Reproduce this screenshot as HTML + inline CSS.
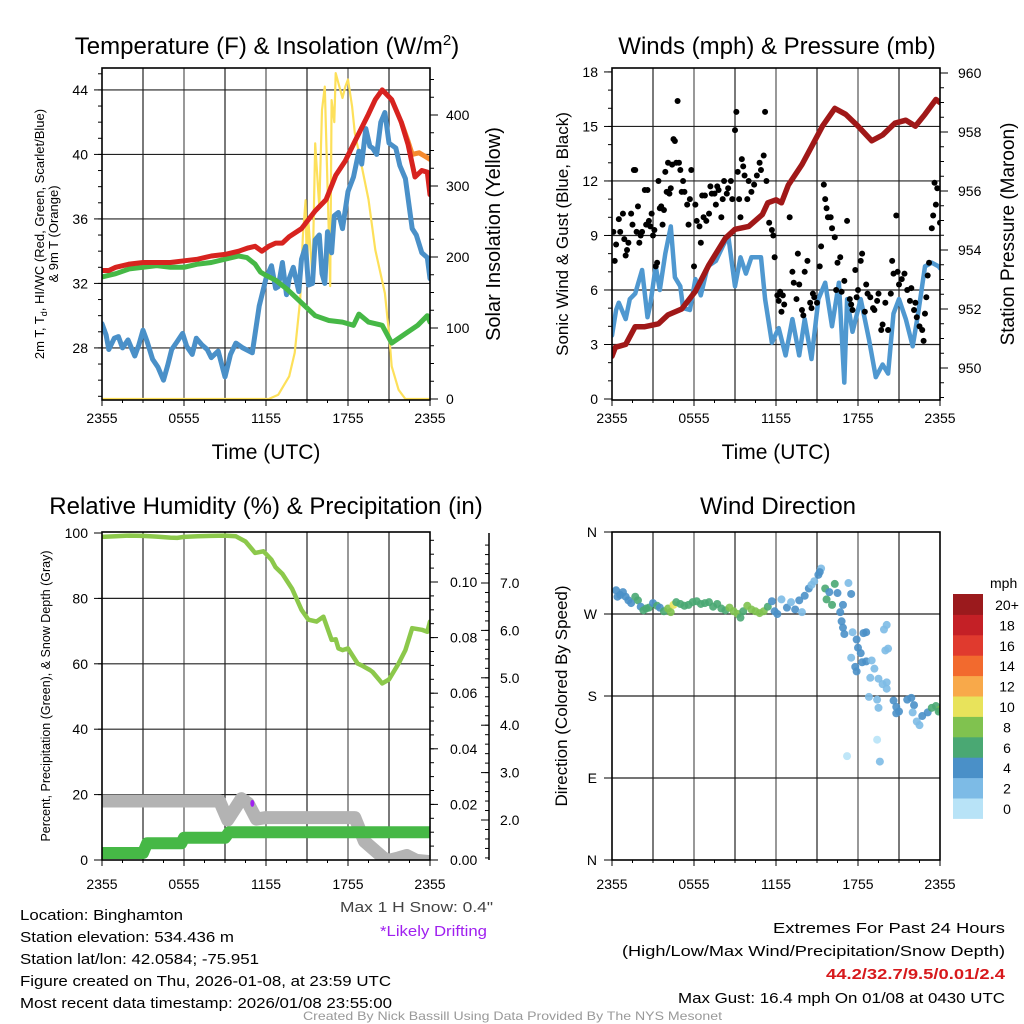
<!DOCTYPE html>
<html><head><meta charset="utf-8"><style>
body{margin:0;background:#fff;}
svg{display:block;font-family:"Liberation Sans",sans-serif;}
</style></head><body>
<svg id="fig" width="1024" height="1024" viewBox="0 0 1024 1024" xmlns="http://www.w3.org/2000/svg">
<defs>
<clipPath id="c1"><rect x="102" y="68" width="328" height="332"/></clipPath>
<clipPath id="c2"><rect x="612" y="68" width="328" height="332"/></clipPath>
<clipPath id="c3"><rect x="102" y="532" width="328" height="328"/></clipPath>
<clipPath id="c4"><rect x="612" y="532" width="328" height="328"/></clipPath>
</defs>
<g id="root"></g>
<text x="267" y="54" font-size="24" text-anchor="middle">Temperature (F) &amp; Insolation (W/m<tspan dy="-9" font-size="15">2</tspan><tspan dy="9">)</tspan></text>
<text x="777" y="54" font-size="24" text-anchor="middle">Winds (mph) &amp; Pressure (mb)</text>
<text x="266" y="514" font-size="24" text-anchor="middle">Relative Humidity (%) &amp; Precipitation (in)</text>
<text x="778" y="514" font-size="24" text-anchor="middle">Wind Direction</text>
<text x="266" y="459" font-size="21" text-anchor="middle">Time (UTC)</text>
<text x="776" y="459" font-size="21" text-anchor="middle">Time (UTC)</text>
<text transform="translate(500,234) rotate(-90)" font-size="20" text-anchor="middle">Solar Insolation (Yellow)</text>
<text transform="translate(44,234) rotate(-90)" font-size="13" text-anchor="middle">2m T, T<tspan font-size="9" dy="3">d</tspan><tspan dy="-3">, HI/WC (Red, Green, Scarlet/Blue)</tspan></text>
<text transform="translate(58,234) rotate(-90)" font-size="13" text-anchor="middle">&amp; 9m T (Orange)</text>
<text transform="translate(568,234) rotate(-90)" font-size="17" text-anchor="middle">Sonic Wind &amp; Gust (Blue, Black)</text>
<text transform="translate(1014,234) rotate(-90)" font-size="19" text-anchor="middle">Station Pressure (Maroon)</text>
<text transform="translate(50,696) rotate(-90)" font-size="12.5" text-anchor="middle">Percent, Precipitation (Green), &amp; Snow Depth (Gray)</text>
<text transform="translate(567,696) rotate(-90)" font-size="17" text-anchor="middle">Direction (Colored By Speed)</text>
<g font-size="15">
<text x="20" y="920" textLength="163" lengthAdjust="spacingAndGlyphs">Location: Binghamton</text>
<text x="20" y="942" textLength="214" lengthAdjust="spacingAndGlyphs">Station elevation: 534.436 m</text>
<text x="20" y="964" textLength="239" lengthAdjust="spacingAndGlyphs">Station lat/lon: 42.0584; -75.951</text>
<text x="20" y="986" textLength="371" lengthAdjust="spacingAndGlyphs">Figure created on Thu, 2026-01-08, at 23:59 UTC</text>
<text x="20" y="1008" textLength="372" lengthAdjust="spacingAndGlyphs">Most recent data timestamp: 2026/01/08 23:55:00</text>
</g>
<text x="340" y="912" font-size="15" fill="#444" textLength="153" lengthAdjust="spacingAndGlyphs">Max 1 H Snow: 0.4"</text>
<text x="380" y="936" font-size="15" fill="#a020f0" textLength="107" lengthAdjust="spacingAndGlyphs">*Likely Drifting</text>
<g font-size="15">
<text x="773" y="933" textLength="232" lengthAdjust="spacingAndGlyphs">Extremes For Past 24 Hours</text>
<text x="622" y="956" textLength="383" lengthAdjust="spacingAndGlyphs">(High/Low/Max Wind/Precipitation/Snow Depth)</text>
<text x="826" y="979" font-weight="bold" fill="#d7191c" textLength="179" lengthAdjust="spacingAndGlyphs">44.2/32.7/9.5/0.01/2.4</text>
<text x="678" y="1003" textLength="327" lengthAdjust="spacingAndGlyphs">Max Gust: 16.4 mph On 01/08 at 0430 UTC</text>
</g>
<text x="303" y="1020" font-size="12" fill="#999" textLength="419" lengthAdjust="spacingAndGlyphs">Created By Nick Bassill Using Data Provided By The NYS Mesonet</text>
</svg>
<script>
// ---------- data ----------
var xTickLabels=["2355","0555","1155","1755","2355"];
var tempTicks=[28,32,36,40,44];
var solarTicks=[0,100,200,300,400];
var windTicks=[0,3,6,9,12,15,18];
var presTicks=[950,952,954,956,958,960];
var rhTicks=[0,20,40,60,80,100];
var precipTicks=[0,0.02,0.04,0.06,0.08,0.10];
var snowTicks=[2,3,4,5,6,7];
var dirLabels=["N","E","S","W","N"];
var dirTicks=[0,90,180,270,360];
var speedBins=["0","2","4","6","8","10","12","14","16","18","20+"];
var speedColors=["#b8e3f7","#7dbbe6","#4a90c8","#4aa873","#80c24f","#e8e35b","#f8a94a","#f26a2e","#e03a2e","#c42026","#9b1a1d"];

var tempT=[0,0.5,1,2,3,4,5,6,7,8,9,10,10.7,11.2,11.7,12.2,12.7,13.2,13.7,14.6,15.6,16.4,17.1,17.8,18.5,19.5,20.0,20.5,21.2,21.9,22.4,22.9,23.4,23.8,24];
var tempV=[32.8,32.8,33.0,33.2,33.3,33.3,33.3,33.4,33.5,33.7,33.8,34.0,34.2,34.3,34.0,34.3,34.5,34.5,34.9,35.4,36.5,37.2,38.7,39.6,40.8,42.5,43.4,44.0,43.4,42.0,40.6,38.6,39.0,38.9,37.5];
var t9T=[21.9,22.4,22.7,23.2,23.6,24];
var t9V=[42.0,40.8,40.0,40.1,39.9,39.7];
var dewT=[0,1,2,3,4,5,6,7,8,9,10,10.6,11.2,11.6,12.0,12.7,13.6,14.6,15.6,16.6,17.6,18.4,18.8,19.5,20.5,21.2,22.4,23.1,23.8,24];
var dewV=[32.4,32.6,32.9,33.0,33.1,33.0,33.0,33.2,33.3,33.5,33.7,33.6,33.2,32.7,32.5,32.2,31.6,30.8,30.0,29.7,29.6,29.4,30.1,29.6,29.4,28.3,29.0,29.4,30.0,29.6];
var wcT=[0,0.3,0.5,0.9,1.2,1.5,1.9,2.4,2.7,3.0,3.3,3.7,4.1,4.5,4.8,5.1,5.5,5.9,6.2,6.6,6.9,7.3,7.7,8.0,8.5,9.0,9.4,9.8,10.3,11.0,11.5,12.0,12.4,12.7,12.9,13.2,13.5,13.7,14.0,14.4,14.6,14.9,15.1,15.4,15.6,15.9,16.1,16.3,16.5,16.8,17.0,17.3,17.6,18.0,18.4,18.8,19.0,19.3,19.6,19.8,20.1,20.4,20.7,21.0,21.5,21.8,22.2,22.7,23.0,23.4,23.8,24];
var wcV=[29.5,28.8,27.9,28.6,28.7,28.0,28.5,27.5,28.2,29.1,28.4,27.3,26.8,26.0,26.9,27.9,28.4,28.9,28.1,27.6,28.6,28.2,27.9,27.4,27.8,26.2,27.6,28.3,28.0,27.7,30.6,32.3,33.1,31.7,31.8,33.3,31.3,32.3,33.0,31.5,33.5,34.3,31.9,32.0,34.7,35.0,32.6,32.0,35.2,33.9,36.2,36.4,35.4,37.7,38.6,40.2,39.4,41.6,40.5,40.4,40.0,42.0,42.6,40.7,40.4,39.3,38.5,35.4,35.0,33.9,33.6,32.3];
var solT=[0,12.2,12.9,13.7,14.1,14.5,14.7,14.9,15.0,15.1,15.3,15.4,15.6,15.8,15.9,16.1,16.3,16.5,16.6,16.7,16.8,17.0,17.1,17.3,17.6,17.8,18.0,18.3,18.5,19.0,19.5,20.0,20.7,21.0,21.2,21.7,22.2,24];
var solV=[0,0,6,32,65,140,230,280,170,250,200,170,360,300,270,407,440,300,230,159,421,390,459,445,424,440,450,412,375,328,281,210,149,93,46,13,0,0];

var presT=[0,0.25,1,1.7,2.4,3.4,4.1,5.1,6.1,7.1,8.3,9.0,10.0,11.0,11.4,12.0,12.4,12.9,13.9,14.6,15.4,16.3,17.1,18.0,19.0,19.8,20.7,21.5,22.2,22.9,23.7,24];
var presV=[950.4,950.7,950.8,951.4,951.4,951.5,951.8,952.0,952.6,953.5,954.4,954.7,954.8,955.2,955.6,955.7,955.6,956.2,956.9,957.5,958.2,958.8,958.6,958.2,957.7,957.9,958.3,958.4,958.2,958.6,959.1,959.0];
var windT=[0,0.3,0.5,1.0,1.3,1.7,2.2,2.6,2.8,3.2,3.5,3.9,4.3,4.6,5.0,5.2,5.7,6.1,6.5,7.0,7.6,8.1,8.5,9.0,9.4,9.8,10.2,10.9,11.2,11.7,12.2,12.7,13.2,13.7,14.1,14.6,15.1,15.6,16.1,16.6,17.0,17.2,17.6,18.2,18.8,19.3,19.8,20.2,20.6,21.0,21.5,22.0,22.4,22.9,23.4,23.9,24];
var windV=[3.5,4.9,5.3,4.4,5.5,5.8,7.1,4.5,5.2,7.3,6.0,8.0,9.5,6.7,6.2,5.0,4.9,6.6,5.7,7.3,7.6,8.4,9.0,6.2,7.8,6.9,7.8,7.8,5.5,3.1,3.9,2.4,4.4,2.4,4.4,2.2,5.5,6.4,4.0,6.4,0.9,5.5,3.7,5.5,3.3,1.2,1.9,1.4,4.7,5.5,4.4,2.9,4.7,7.3,7.5,7.3,7.2];
var gustT=[0.1,0.2,0.3,0.5,0.6,0.8,0.9,1.0,1.1,1.2,1.4,1.5,1.6,1.7,1.8,1.9,2.0,2.1,2.2,2.4,2.5,2.6,2.7,2.8,2.9,3.0,3.1,3.2,3.3,3.4,3.5,3.6,3.7,3.8,3.9,4.0,4.1,4.2,4.3,4.4,4.5,4.6,4.7,4.8,4.9,5.0,5.1,5.2,5.3,5.5,5.6,5.7,5.8,6.0,6.1,6.2,6.4,6.5,6.6,6.7,6.8,6.9,7.1,7.2,7.3,7.5,7.6,7.7,7.8,8.0,8.1,8.2,8.4,8.5,8.7,8.8,9.0,9.1,9.2,9.3,9.4,9.5,9.6,9.7,9.9,10.0,10.2,10.4,10.6,10.8,10.9,11.1,11.2,11.3,11.5,11.7,11.8,11.9,12.1,12.2,12.3,12.4,12.5,12.6,13.0,13.2,13.3,13.5,13.6,13.7,13.9,14.0,14.1,14.3,14.5,14.6,14.7,14.8,15.0,15.2,15.3,15.5,15.6,15.7,15.8,16.0,16.1,16.3,16.4,16.5,16.7,16.8,17.0,17.2,17.4,17.5,17.6,17.8,17.9,18.0,18.2,18.3,18.5,18.6,18.7,18.9,19.1,19.2,19.4,19.5,19.7,19.8,20.0,20.2,20.4,20.5,20.6,20.8,20.9,21.0,21.2,21.4,21.6,21.8,21.9,22.1,22.2,22.3,22.5,22.7,22.8,22.9,23.0,23.1,23.2,23.4,23.5,23.6,23.7,23.8,24.0];
var gustV=[9.2,7.6,8.5,9.9,9.2,10.2,8.8,7.9,8.2,8.6,10.2,9.6,12.6,12.6,9.2,10.6,8.6,9.0,9.2,11.5,9.6,11.5,9.8,9.5,10.2,9.0,9.3,7.3,7.5,12.0,10.5,10.6,9.6,10.4,12.5,11.4,13.0,11.3,11.6,12.9,14.3,14.2,13.0,16.4,13.0,12.6,11.4,12.0,11.4,10.7,9.6,11.0,12.6,7.3,10.7,9.8,9.5,8.6,11.2,10.0,11.2,9.8,10.2,11.7,11.3,11.3,10.7,11.7,11.5,10.0,11.0,12.0,11.3,11.6,12.0,11.0,14.8,15.8,12.5,11.0,10.0,13.2,12.8,12.3,11.0,12.0,11.4,11.8,12.3,13.0,12.6,13.4,15.8,12.0,9.7,9.3,9.0,7.8,5.7,5.4,5.9,4.8,5.7,5.2,10.0,7.0,6.4,5.5,8.0,6.3,4.9,4.6,7.0,7.6,5.3,5.0,5.8,5.6,5.3,7.3,8.4,11.8,11.0,10.5,10.0,10.0,9.4,8.9,6.0,7.5,7.8,5.9,6.5,9.8,5.5,5.2,4.9,7.1,5.6,6.0,7.6,8.0,4.8,6.3,5.8,5.6,5.0,4.9,5.4,5.8,3.8,4.1,5.3,3.8,5.8,7.6,6.9,10.1,7.0,6.3,6.6,6.9,6.0,5.4,6.1,4.9,5.3,4.5,4.0,3.8,3.2,4.7,5.6,6.8,7.5,9.4,10.1,11.9,10.7,11.6,9.7];

var rhT=[0,1,2,3,4,5,5.5,6,7,8,9,9.8,10.5,11.2,11.8,12.0,12.4,12.7,13.2,13.9,14.6,15.1,15.7,16.2,16.8,17.1,17.3,17.6,18.0,18.7,19.0,19.6,19.8,20.5,21.0,21.7,22.2,22.7,23.4,23.8,24];
var rhV=[98.8,99.0,99.2,99.1,98.9,98.6,98.5,98.8,99.0,99.1,99.2,99.0,97.4,93.9,94.4,93.6,91.8,89.5,87.5,83.0,76.5,73.5,72.9,74.4,67.3,67.5,64.7,64.2,64.7,60.1,59.5,58.1,57.5,54.0,55.2,60.1,64.2,70.9,70.4,69.8,72.9];
var precT=[0,3.0,3.3,5.8,6.0,9.0,9.3,24];
var precV=[0.0025,0.0025,0.006,0.006,0.008,0.008,0.01,0.01];
var snowT=[0,8.6,9.2,10.2,10.7,11.3,12.0,18.5,19.2,20.0,20.6,21.0,21.7,22.3,23.0,24];
var snowV=[2.4,2.4,2.0,2.45,2.35,2.02,2.05,2.05,1.55,1.35,1.2,1.15,1.2,1.25,1.15,1.12];
var driftT=[11.0];
var driftV=[2.35];

var dirT=[0.3,0.4,0.6,0.8,1.0,1.2,1.4,1.7,1.9,2.1,2.3,2.5,2.7,3.0,3.3,3.5,3.8,4.1,4.3,4.5,4.7,5.0,5.3,5.6,5.9,6.2,6.5,6.8,7.1,7.4,7.7,8.0,8.3,8.6,8.9,9.2,9.4,9.6,9.9,10.2,10.5,10.8,11.1,11.4,11.7,11.9,12.1,12.4,12.8,13.1,13.4,13.7,13.9,14.1,14.4,14.6,14.8,15.1,15.3,15.2,15.6,15.7,15.9,16.1,16.3,16.5,16.7,16.9,17.3,17.5,16.8,16.9,17.0,17.6,17.9,18.0,18.2,17.5,17.8,17.9,18.3,18.6,19.0,19.2,18.9,19.5,19.8,20.1,20.1,20.0,20.2,19.9,20.1,18.4,18.6,18.8,19.4,19.5,20.6,20.8,21.0,20.8,21.6,21.9,22.1,22.0,22.3,22.5,22.7,23.1,23.4,23.7,24.0,23.9,19.4,17.2,19.6];
var dirV=[296,289,291,294,289,285,282,289,285,278,274,276,277,282,279,277,273,276,272,280,283,281,279,280,283,284,281,282,283,278,281,276,274,277,273,270,266,273,279,275,273,271,273,278,284,273,270,286,277,283,275,285,272,290,298,302,306,313,320,316,298,286,294,280,303,293,272,280,304,292,262,255,248,250,242,233,227,222,212,207,217,218,219,210,200,199,193,188,195,230,232,253,258,249,250,179,176,167,175,168,163,161,176,178,170,162,152,148,158,162,167,169,165,163,132,114,108];
var dirSpd=[4,4,4,4,4,4,4,6,6,4,6,6,6,4,6,4,6,8,8,10,6,6,6,6,6,6,6,6,6,6,6,6,6,8,8,8,6,6,8,8,8,8,8,6,4,4,4,2,4,2,4,4,2,4,4,2,2,4,2,4,6,6,4,6,6,4,4,4,2,4,4,4,4,2,4,4,4,2,4,4,4,4,2,2,2,2,2,2,2,2,2,2,2,4,4,2,2,2,4,4,4,4,4,4,4,2,2,2,4,4,6,6,8,6,0,0,2];

// ---------- helpers ----------
var NS="http://www.w3.org/2000/svg";
var root=document.getElementById('root');
function mk(tag,attrs,parent){var e=document.createElementNS(NS,tag);for(var k in attrs)e.setAttribute(k,attrs[k]);(parent||root).appendChild(e);return e;}
function xScale(x0){return function(t){return x0+t*328/24;};}
function y1(v){return 400-(v-24.77)*16.125;}
function ysol(v){return 399-v*0.71;}
function y2(v){return 399-v*18.17;}
function yp(v){return 368-(v-950)*29.5;}
function y3(v){return 860-v*3.27;}
function ypr(v){return 860-v*2780;}
function ysn(v){return 820-(v-2)*47.4;}
function y4(d){return 860-d*328/360;}

function grid(x0,y0,h,hy){
  var g=mk('g',{});
  
  
  for(var i=1;i<8;i++){var x=x0+i*41;mk('line',{x1:x,x2:x,y1:y0,y2:y0+h,stroke:(i%2?'#222':'#555'),'stroke-width':1.2},g);}
  hy.forEach(function(y){mk('line',{x1:x0,x2:x0+328,y1:y,y2:y,stroke:'#222','stroke-width':1.2},g);});
}
function frame(x0,y0,h,name){
  var r=mk('rect',{x:x0,y:y0,width:328,height:h,fill:'none',stroke:'#000','stroke-width':1.6});
  
  
}
function xticks(x0,yb,ty){
  var sx=xScale(x0);
  for(var i=0;i<=24;i+=1.5){mk('line',{x1:sx(i),x2:sx(i),y1:yb,y2:yb+(i%6===0?6:3),stroke:'#000'});}
  xTickLabels.forEach(function(l,i){var t=mk('text',{x:sx(i*6),y:ty,'font-size':14,'text-anchor':'middle'});t.textContent=l;
    
    });
}
function yticks(ax,ticks,scale,side,fmt,minorStep,lo,hi,lx){
  var d=side==='l'?-1:1;
  var n=Math.round((hi-lo)/minorStep);
  for(var k=0;k<=n;k++){var y=scale(lo+k*minorStep);mk('line',{x1:ax,x2:ax+d*4,y1:y,y2:y,stroke:'#000'});}
  ticks.forEach(function(v){var y=scale(v);mk('line',{x1:ax,x2:ax+d*8,y1:y,y2:y,stroke:'#000'});
    var s=fmt(v);
    if(s!==''){var t=mk('text',{x:lx,y:y+5,'font-size':14,'text-anchor':side==='l'?'end':'start'});t.textContent=s;
    
    }});
}
function line(T,V,sx,sy,color,w,clip,name){
  var d=T.map(function(t,i){return (i?'L':'M')+sx(t).toFixed(1)+','+sy(V[i]).toFixed(1);}).join('');
  var p=mk('path',{d:d,fill:'none',stroke:color,'stroke-width':w,'stroke-linejoin':'round','stroke-linecap':'round','clip-path':'url(#'+clip+')'});
  
  
}
function safe(f){try{f();}catch(e){}}

// ---------- panel 1 ----------
safe(function(){
var sx=xScale(102);
grid(102,68,332,tempTicks.map(y1));
line(solT,solV,sx,ysol,'#fde05a',2.2,'c1','solar-line');
line(wcT,wcV,sx,y1,'#4a90c8',5,'c1','windchill-line');
line(dewT,dewV,sx,y1,'#46b846',5,'c1','dewpoint-line');
line(t9T,t9V,sx,y1,'#f58a2e',5,'c1','temp-9m-line');
line(tempT,tempV,sx,y1,'#d7231f',5,'c1','temperature-line');
frame(102,68,332,'temperature-plot-area');
xticks(102,400,423);
yticks(102,tempTicks,y1,'l',function(v){return String(v);},1,25,45,88);
yticks(430,solarTicks,ysol,'r',function(v){return String(v);},25,0,450,446);
});

// ---------- panel 2 ----------
safe(function(){
var sx=xScale(612);
grid(612,68,332,windTicks.filter(function(v){return v>0&&v<18;}).map(y2));
line(windT,windV,sx,y2,'#4f98d0',4.5,'c2','sonic-wind-line');
var gg=mk('g',{'clip-path':'url(#c2)'});


gustT.forEach(function(t,i){var c=mk('circle',{cx:sx(t),cy:y2(gustV[i]),r:3,fill:'#000'},gg);
  
  });
line(presT,presV,sx,yp,'#a01818',5.5,'c2','pressure-line');
frame(612,68,332,'winds-plot-area');
xticks(612,400,423);
yticks(612,windTicks,y2,'l',function(v){return String(v);},1,0,18,598);
yticks(940,presTicks,yp,'r',function(v){return String(v);},0.5,949,960,958);
});

// ---------- panel 4 ----------
safe(function(){
var sx=xScale(612);
grid(612,532,328,[90,180,270].map(y4));
var dg=mk('g',{'clip-path':'url(#c4)'});


dirT.forEach(function(t,i){var sp=dirSpd[i]||0;var c=mk('circle',{cx:sx(t),cy:y4(dirV[i]),r:4,fill:speedColors[Math.min(10,Math.round(sp/2))],'fill-opacity':0.9},dg);
  
  });
frame(612,532,328,'direction-plot-area');
xticks(612,860,889);
dirTicks.forEach(function(d,i){var y=y4(d);mk('line',{x1:612,x2:604,y1:y,y2:y,stroke:'#000'});
  var t=mk('text',{x:597,y:y+5,'font-size':14,'text-anchor':'end'});t.textContent=dirLabels[i];
  
  });
var cb=mk('g',{});


var ut=mk('text',{x:990,y:588,'font-size':14},cb);ut.textContent='mph';
speedBins.forEach(function(l,i){var j=10-i;var y=594+j*20.4;
  var r=mk('rect',{x:953,y:y,width:30,height:20.9,fill:speedColors[i]},cb);
  
  
  var t=mk('text',{x:1007,y:y+16,'font-size':14,'text-anchor':'middle'},cb);t.textContent=l;
  
  });
});

// ---------- panel 3 ----------
safe(function(){
var sx=xScale(102);
grid(102,532,328,[20,40,60,80].map(y3));
line(snowT,snowV,sx,ysn,'#b3b3b3',13,'c3','snow-depth-line');
line(precT,precV,sx,ypr,'#46b846',12,'c3','precip-line');
line(rhT,rhV,sx,y3,'#8cc84b',4.5,'c3','humidity-line');
driftT.forEach(function(t,i){var e=mk('ellipse',{cx:sx(t),cy:ysn(driftV[i]),rx:2,ry:3.5,fill:'#a020f0'});
  
  });
frame(102,532,328,'humidity-plot-area');
xticks(102,860,889);
yticks(102,rhTicks,y3,'l',function(v){return String(v);},20,0,100,88);
yticks(430,precipTicks,ypr,'r',function(v){return v.toFixed(2);},0.005,0,0.115,450);
mk('line',{x1:489,x2:489,y1:533,y2:860,stroke:'#000','stroke-width':1.5});
yticks(489,snowTicks,ysn,'l',function(v){return '';},0.2,1.2,7.8,489);
snowTicks.forEach(function(v){var t=mk('text',{x:500,y:ysn(v)+5,'font-size':14});t.textContent=v.toFixed(1);
  
  });
});
</script>
</body></html>
